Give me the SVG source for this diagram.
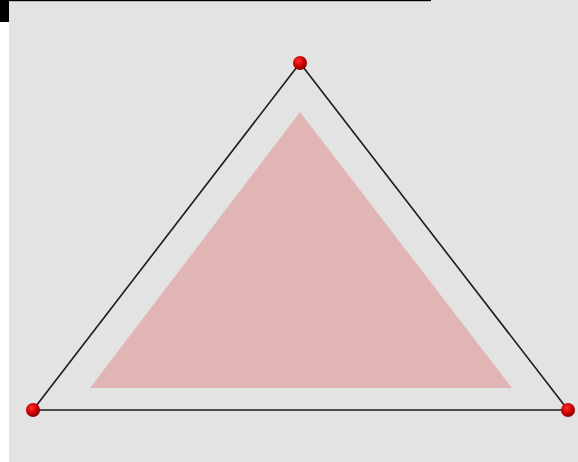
<svg xmlns="http://www.w3.org/2000/svg" width="578" height="462" viewBox="0 0 578 462">
<defs>
<radialGradient id="ball" cx="40%" cy="35%" r="65%">
<stop offset="0" stop-color="#ff3030"/>
<stop offset="0.6" stop-color="#d00000"/>
<stop offset="1" stop-color="#800000"/>
</radialGradient>
<style>
.edge{stroke:#1a1a1a;stroke-width:1.6;fill:none}
.v{fill:url(#ball)}
</style>
</defs>
<rect x="0" y="0" width="578" height="462" fill="#ffffff"/>
<rect x="9" y="0" width="569" height="462" fill="#e3e3e3"/>
<rect x="0" y="0" width="9" height="22" fill="#000"/>
<rect x="9" y="0" width="422" height="1.2" fill="#000"/>
<polygon points="300,112 90,388 512,388" fill="#e2b5b5"/>
<g id="connectors">
<line class="edge" x1="300" y1="63" x2="33" y2="410"/>
<line class="edge" x1="300" y1="63" x2="568" y2="410"/>
<line class="edge" x1="33" y1="410" x2="568" y2="410"/>
</g>
<g id="vTop"><circle class="v" cx="300" cy="63" r="7"/></g>
<g id="vLeft"><circle class="v" cx="33" cy="410" r="7"/></g>
<g id="vRight"><circle class="v" cx="568" cy="410" r="7"/></g>
</svg>
